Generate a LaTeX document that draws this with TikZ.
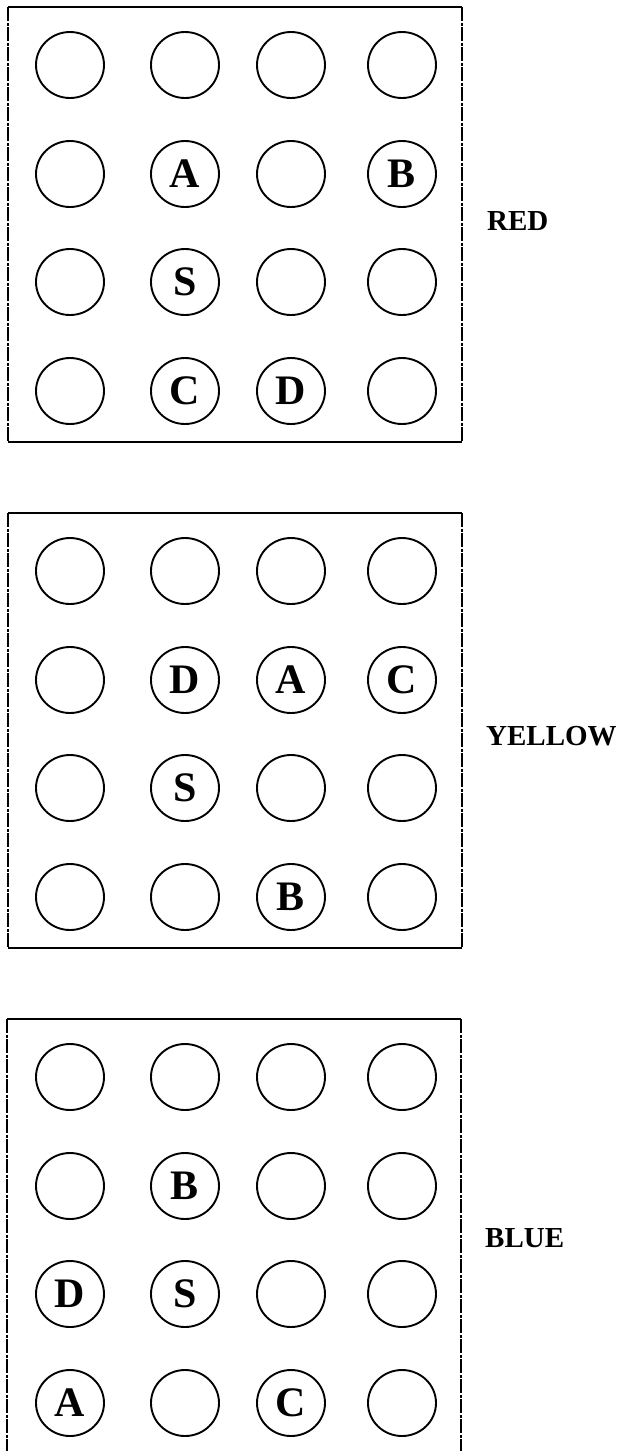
\documentclass[tikz,border=0pt]{standalone}
\usepackage{fontspec}
\usetikzlibrary{shapes.geometric}
\setmainfont{Liberation Serif}
\begin{document}
\begin{tikzpicture}[x=1pt,y=-1pt,
  hole/.style={draw=black,line width=1.9pt,ellipse,minimum width=68pt,minimum height=66pt,inner sep=0pt,
    font=\fontsize{42}{42}\selectfont\bfseries},
  edge/.style={line width=2pt},
  side/.style={line width=1.3pt,dash pattern=on 14pt off 1.5pt on 3pt off 1.5pt},
  colorlabel/.style={anchor=west,inner sep=0pt,font=\fontsize{29}{29}\selectfont\bfseries}]
\useasboundingbox (0,0) rectangle (622,1451);
% panel frames
\foreach \t/\n in {7/1,513/2}{
  \coordinate (tl\n) at (8,\t);
  \coordinate (tr\n) at (462,\t);
  \coordinate (bl\n) at (8,\t+435);
  \coordinate (br\n) at (462,\t+435);
  \draw[edge] (tl\n) -- (tr\n);
  \draw[edge] (bl\n) -- (br\n);
  \draw[side] (tl\n) -- (bl\n);
  \draw[side] (tr\n) -- (br\n);
}
\coordinate (tl3) at (7,1019);
\coordinate (tr3) at (461,1019);
\coordinate (bl3) at (7,1451);
\coordinate (br3) at (461,1451);
\draw[edge] (tl3) -- (tr3);
\draw[side] (tl3) -- (bl3);
\draw[side] (tr3) -- (br3);
% holes
\foreach \t/\n in {7/1,513/2,1019/3}{
  \foreach \y [count=\r] in {58,167,275,384}{
    \foreach \x [count=\c] in {70,185,291,402}{
      \node[hole] (p\n-\r-\c) at (\x,\t+\y) {};
    }
  }
}
% letters
\foreach \p/\r/\c/\l in {1/2/2/A,1/2/4/B,1/3/2/S,1/4/2/C,1/4/3/D,
                          2/2/2/D,2/2/3/A,2/2/4/C,2/3/2/S,2/4/3/B,
                          3/2/2/B,3/3/1/D,3/3/2/S,3/4/1/A,3/4/3/C}{
  \node[font=\fontsize{42}{42}\selectfont\bfseries,inner sep=0pt] (L\p-\r-\c) at (p\p-\r-\c) {\l};
}
% labels
\node[colorlabel] (red) at (487,221) {RED};
\node[colorlabel] (yellow) at (486,736) {YELLOW};
\node[colorlabel] (blue) at (485,1238) {BLUE};
\end{tikzpicture}
\end{document}
